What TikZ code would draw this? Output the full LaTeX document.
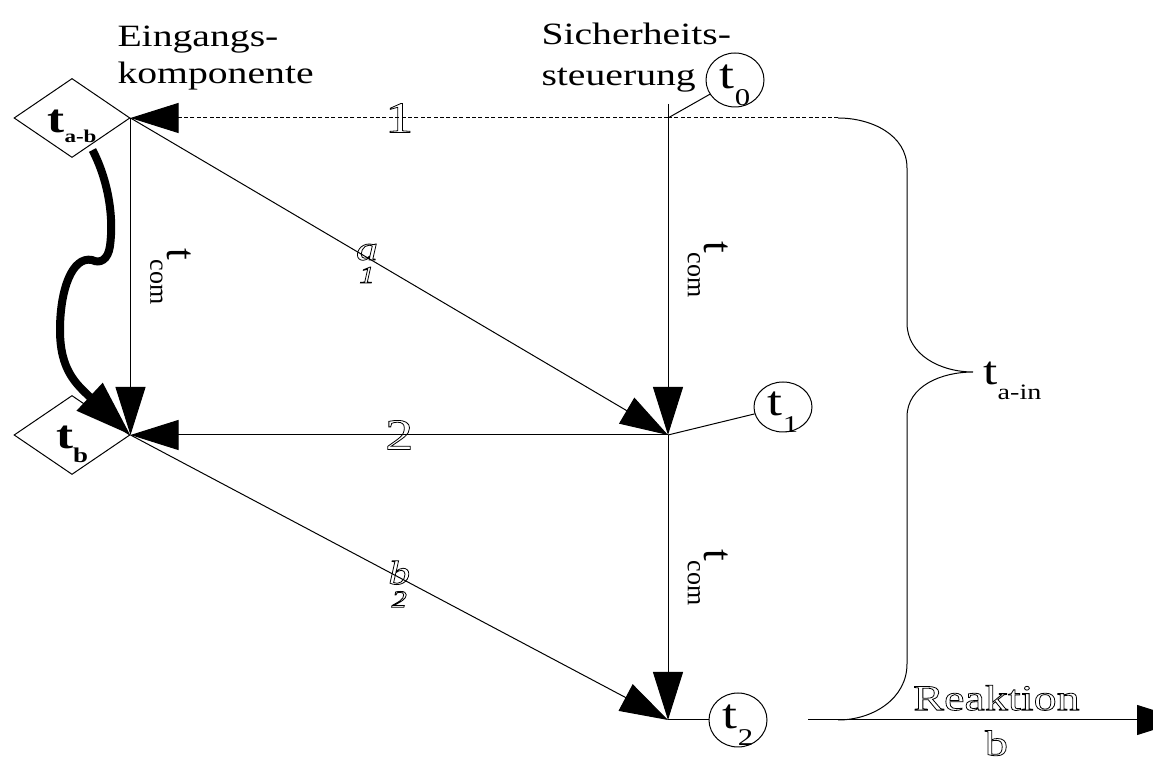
\documentclass[tikz,border=0pt]{standalone}
\usepackage{fontspec}
\setmainfont[FakeStretch=1.28]{Liberation Serif}
\newfontfamily\plainserif{Liberation Serif}
\usetikzlibrary{arrows.meta,positioning,shapes.geometric,calc}

% t with a lowered index: \tlab{index}{drop}{size}
\newcommand{\tlab}[3]{t\raisebox{-#2}{\fontsize{#3}{#3}\selectfont #1}}
% outlined glyphs (text render mode 1)
\newcommand{\hollow}[1]{\special{pdf:literal direct 1 Tr 0.4 w}#1\special{pdf:literal direct 0 Tr}}

\begin{document}
\begin{tikzpicture}[x=1pt, y=1pt, node distance=100pt, on grid, line width=0.5pt,
  flow/.style={-{Triangle[length=24pt,width=15pt]}},
  surge/.style={line width=4pt, -{Triangle[length=28pt,width=18pt]}},
  dashline/.style={dash pattern=on 2pt off 1.2pt},
  gate/.style={diamond, draw, inner sep=0pt, minimum width=58pt, minimum height=39.5pt,
    text depth=0pt, font=\bfseries\fontsize{20}{20}\selectfont},
  timer/.style={ellipse, draw, inner sep=0pt, minimum width=29pt, minimum height=27pt,
    text height=9pt, text depth=0pt, font=\fontsize{21}{21}\selectfont},
  heading/.style={anchor=north west, inner sep=0pt, align=left},
  comlabel/.style={rotate=-90, inner sep=0pt, font=\plainserif\fontsize{21}{21}\selectfont},
  numlabel/.style={inner sep=0pt, font=\fontsize{22}{22}\selectfont},
  varlabel/.style={inner sep=0pt, align=center, font=\itshape\fontsize{17}{11.5}\selectfont}]
\useasboundingbox (0,0) rectangle (576.5,-379);

% Eingangskomponente
\node [gate, text height=15pt] (t_ab) at (36,-59) {t\raisebox{-5pt}{\fontsize{9}{9}\selectfont a-b}};
\node [gate, text height=14pt] (t_b) [below=158.5pt of t_ab] {t\raisebox{-7pt}{\fontsize{10.5}{10.5}\selectfont b}};
\node [heading, font=\fontsize{15.5}{18.5}\selectfont] (in_head) at (58.5,-12.5) {Eingangs-\\komponente};

% Sicherheitssteuerung
\coordinate [right=298pt of t_ab] (j0);
\coordinate [above=7pt of j0] (j0top);
\coordinate [below=158.5pt of j0] (j1);
\coordinate [below=142.5pt of j1] (j2);
\node [timer] (t0) [above right=19pt and 33.5pt of j0, anchor=center] {\tlab{0}{8.5pt}{12}};
\node [timer, minimum height=25pt] (t1) [above right=14pt and 57.5pt of j1, anchor=center] {\tlab{1}{8.5pt}{12}};
\node [timer] (t2) [right=35pt of j2, anchor=center] {\tlab{2}{8.5pt}{12}};
\node [heading, font=\fontsize{15.5}{20.5}\selectfont] (ctl_head) at (270.5,-11) {Sicherheits-\\steuerung};

\draw (j0) -- (t0);
\draw (j1) -- (t1);
\draw (j2) -- (t2);

\path [flow]
  (j0) edge [dashline] node [numlabel] {\hollow{1}} (t_ab.east)
  (t_ab.east) edge node [xshift=20pt, comlabel] {\tlab{com}{8.5pt}{13}} (t_b.east)
              edge node [pos=0.44, varlabel, yshift=-3pt] {\hollow{a}\\{\fontsize{12}{12}\selectfont\hollow{1}}} (j1)
  (j0top) edge node [xshift=20pt, comlabel] {\tlab{com}{8.5pt}{13}} (j1)
  (j1) edge node [numlabel] {\hollow{2}} (t_b.east)
       edge node [xshift=20pt, comlabel] {\tlab{com}{8.5pt}{13}} (j2)
  (t_b.east) edge node [varlabel, yshift=-3.25pt] {\hollow{b}\\{\fontsize{12}{12}\selectfont\hollow{2}}} (j2);

% Wechsel von t_a-b nach t_b
\draw [surge] ([yshift=-3pt]$(t_ab.south)!0.35!(t_ab.east)$)
  .. controls (54,-90) and (57,-108) .. (55,-123)
  .. controls (54,-130) and (50,-132) .. (46,-130)
  .. controls (36,-128) and (30,-145) .. (30,-165)
  .. controls (30,-185) and (38,-192) .. (t_b.east);

% Klammer t_a-in
\coordinate [right=85pt of j0] (brace_top);
\coordinate (ain_tip) at (486.5,-186);
\node [anchor=base west, inner sep=0pt, font=\fontsize{20}{20}\selectfont] (t_ain) at (491.5,-192.5) {\tlab{a-in}{7.5pt}{11}};
\draw [dashline] (j0) -- (brace_top);
\draw (brace_top) to[out=0, in=90] (453.5,-84) -- (453.5,-161.5)
  to[out=-90, in=180] (ain_tip) to[out=180, in=90] (453.5,-208.5)
  -- (453.5,-332) to[out=-90, in=0] (419,-360);

% Reaktion
\coordinate [right=70pt of j2] (r_start);
\coordinate [right=258.5pt of j2] (r_end);
\path [flow] (r_start) edge
  node [above=4.5pt, inner sep=0pt, font=\fontsize{18}{18}\selectfont] {\hollow{Reaktion}}
  node [below=5pt, inner sep=0pt, font=\fontsize{18}{18}\selectfont] {\hollow{b}} (r_end);
\end{tikzpicture}
\end{document}
